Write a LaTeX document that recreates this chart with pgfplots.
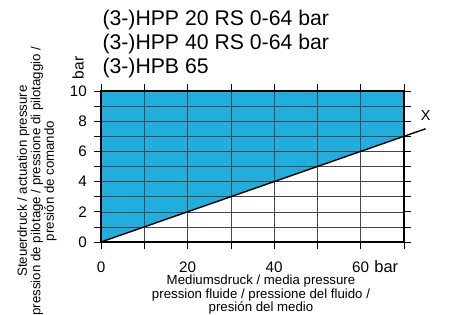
\documentclass[border=0pt]{standalone}
\usepackage{pgfplots}
\pgfplotsset{compat=1.18}
\usepackage{fontspec}
\setmainfont{Liberation Sans}
\definecolor{fillblue}{RGB}{34,174,220}
\newcommand{\tkf}{\fontsize{15.3}{15.3}\selectfont}
\begin{document}
\begin{tikzpicture}
\begin{axis}[
 set layers,
 at={(0bp,0bp)}, anchor=south west,
 scale only axis, width=303bp, height=151bp,
 xmin=0, xmax=70, ymin=0, ymax=10,
 xtick={0,10,...,70}, xticklabels={\tkf 0,,\tkf 20,,\tkf 40,,\tkf 60,},
 ytick={0,1,...,10}, yticklabels={\tkf 0,,\tkf 2,,\tkf 4,,\tkf 6,,\tkf 8,,\tkf 10},
 tick align=outside, major tick length=6.5bp,
 grid=major, grid style={black!72, line width=0.6pt},
 axis line style={line width=1.5pt},
 tick style={black, line width=0.7pt},
 xticklabel style={anchor=base, inner sep=0pt, yshift=-23.5bp},
 yticklabel style={anchor=east, inner sep=0pt, xshift=-7.5bp},
 /pgf/number format/assume math mode=true,
 clip=false,
]
\addplot[fill=fillblue, draw=none, on layer=axis background] coordinates {(0,0) (70,7) (70,10) (0,10)} -- cycle;
\addplot[black, line width=1.4pt] coordinates {(0,0) (75,7.5)};
\node[font=\fontsize{14.5}{14.5}\selectfont] at (axis cs:75,8.35) {X};
\node[font=\fontsize{16.5}{16.5}\selectfont, anchor=base] at (axis cs:65.9,0) [yshift=-30bp] {bar};
\end{axis}
\node[anchor=base west, xshift=-2bp, font=\fontsize{21.3}{24}\selectfont] at (0bp,216bp) {(3-)HPP 20 RS 0-64 bar};
\node[anchor=base west, xshift=-2bp, font=\fontsize{21.3}{24}\selectfont] at (0bp,192bp) {(3-)HPP 40 RS 0-64 bar};
\node[anchor=base west, xshift=-2bp, font=\fontsize{21.3}{24}\selectfont] at (0bp,168bp) {(3-)HPB 65};
\node[rotate=90, font=\fontsize{15.5}{15.5}\selectfont] at (-23bp,174bp) {bar};
\node[rotate=90, align=center, inner sep=0pt, font=\fontsize{13.3}{13.5}\selectfont] at (-64bp,61bp) {Steuerdruck / actuation pressure\\ pression de pilotage / pressione di pilotaggio /\\ presión de comando};
\node[anchor=north, align=center, inner sep=0pt, font=\fontsize{13.3}{13.3}\selectfont] at (160bp,-33bp) {Mediumsdruck / media pressure\\ pression fluide / pressione del fluido /\\ presión del medio};
\pgfresetboundingbox
\path[use as bounding box] (-101bp,-73bp) rectangle (360bp,242bp);
\end{tikzpicture}
\end{document}
